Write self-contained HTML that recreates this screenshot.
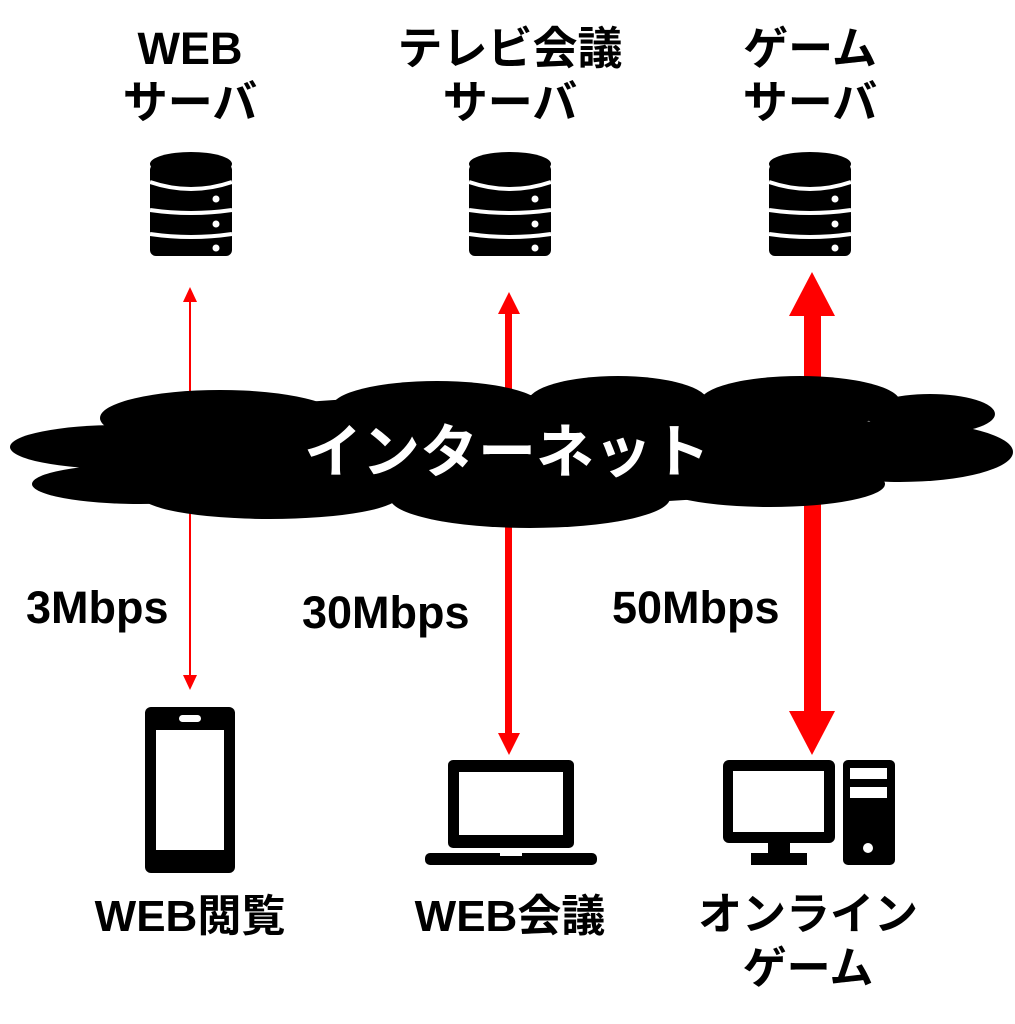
<!DOCTYPE html>
<html><head><meta charset="utf-8"><style>
html,body{margin:0;padding:0;background:#fff;}
svg{display:block;}
text{font-family:"Liberation Sans","Noto Sans CJK JP",sans-serif;font-weight:bold;}
</style></head><body>
<svg width="1015" height="1024" viewBox="0 0 1015 1024" xmlns="http://www.w3.org/2000/svg">
<defs>
<g id="srv">
  <rect x="-41" y="12" width="82" height="92" rx="6" fill="#000"/>
  <ellipse cx="0" cy="12" rx="41" ry="12" fill="#000"/>
  <path d="M-41 30 Q0 44 41 30" stroke="#fff" stroke-width="4" fill="none"/>
  <path d="M-41 58 Q0 64 41 58" stroke="#fff" stroke-width="4" fill="none"/>
  <path d="M-41 82 Q0 88 41 82" stroke="#fff" stroke-width="4" fill="none"/>
  <circle cx="25" cy="47" r="3.5" fill="#fff"/>
  <circle cx="25" cy="72" r="3.5" fill="#fff"/>
  <circle cx="25" cy="96" r="3.5" fill="#fff"/>
</g>
</defs>
<g font-size="45" text-anchor="middle" fill="#000">
<text x="190" y="64">WEB</text>
<text x="190" y="118">サーバ</text>
<text x="510" y="64">テレビ会議</text>
<text x="510" y="118">サーバ</text>
<text x="810" y="64">ゲーム</text>
<text x="810" y="118">サーバ</text>
</g>
<use href="#srv" x="191" y="152"/>
<use href="#srv" x="510" y="152"/>
<use href="#srv" x="810" y="152"/>
<g fill="#f00">
<rect x="189" y="300" width="2" height="376"/>
<polygon points="190,287 183,302 197,302"/>
<polygon points="190,690 183,675 197,675"/>
<rect x="505" y="312" width="7" height="424"/>
<polygon points="509,292 498,314 520,314"/>
<polygon points="509,755 498,733 520,733"/>
<rect x="804" y="312" width="17" height="402"/>
<polygon points="812,272 789,316 835,316"/>
<polygon points="812,755 789,711 835,711"/>
</g>
<g fill="#000">
<ellipse cx="120" cy="447" rx="110" ry="22"/>
<ellipse cx="140" cy="484" rx="108" ry="20"/>
<ellipse cx="220" cy="418" rx="120" ry="28"/>
<ellipse cx="437" cy="407" rx="105" ry="26"/>
<ellipse cx="618" cy="402" rx="90" ry="26"/>
<ellipse cx="800" cy="402" rx="100" ry="26"/>
<ellipse cx="930" cy="414" rx="65" ry="20"/>
<ellipse cx="900" cy="452" rx="113" ry="30"/>
<ellipse cx="770" cy="484" rx="115" ry="23"/>
<ellipse cx="530" cy="498" rx="140" ry="30"/>
<ellipse cx="270" cy="495" rx="130" ry="24"/>
<ellipse cx="510" cy="450" rx="420" ry="55"/>
</g>
<text x="507" y="472" font-size="58" text-anchor="middle" fill="#fff">インターネット</text>
<g font-size="45" fill="#000">
<text x="26" y="623">3Mbps</text>
<text x="302" y="628">30Mbps</text>
<text x="612" y="623">50Mbps</text>
</g>
<rect x="145" y="707" width="90" height="166" rx="6" fill="#000"/>
<rect x="156" y="730" width="68" height="120" fill="#fff"/>
<rect x="179" y="715" width="22" height="7" rx="3.5" fill="#fff"/>
<rect x="448" y="760" width="126" height="88" rx="5" fill="#000"/>
<rect x="459" y="772" width="104" height="63" fill="#fff"/>
<rect x="425" y="853" width="172" height="12" rx="5" fill="#000"/>
<rect x="500" y="853" width="22" height="3" fill="#fff"/>
<rect x="723" y="760" width="112" height="83" rx="6" fill="#000"/>
<rect x="733" y="771" width="91" height="61" fill="#fff"/>
<rect x="768" y="842" width="22" height="12" fill="#000"/>
<rect x="751" y="853" width="56" height="12" fill="#000"/>
<rect x="843" y="760" width="52" height="105" rx="5" fill="#000"/>
<rect x="850" y="768" width="37" height="11" fill="#fff"/>
<rect x="850" y="787" width="37" height="11" fill="#fff"/>
<circle cx="868" cy="848" r="5" fill="#fff"/>
<g font-size="44" text-anchor="middle" fill="#000">
<text x="190" y="931">WEB閲覧</text>
<text x="510" y="931">WEB会議</text>
<text x="808" y="929">オンライン</text>
<text x="808" y="983">ゲーム</text>
</g>
</svg>
</body></html>
